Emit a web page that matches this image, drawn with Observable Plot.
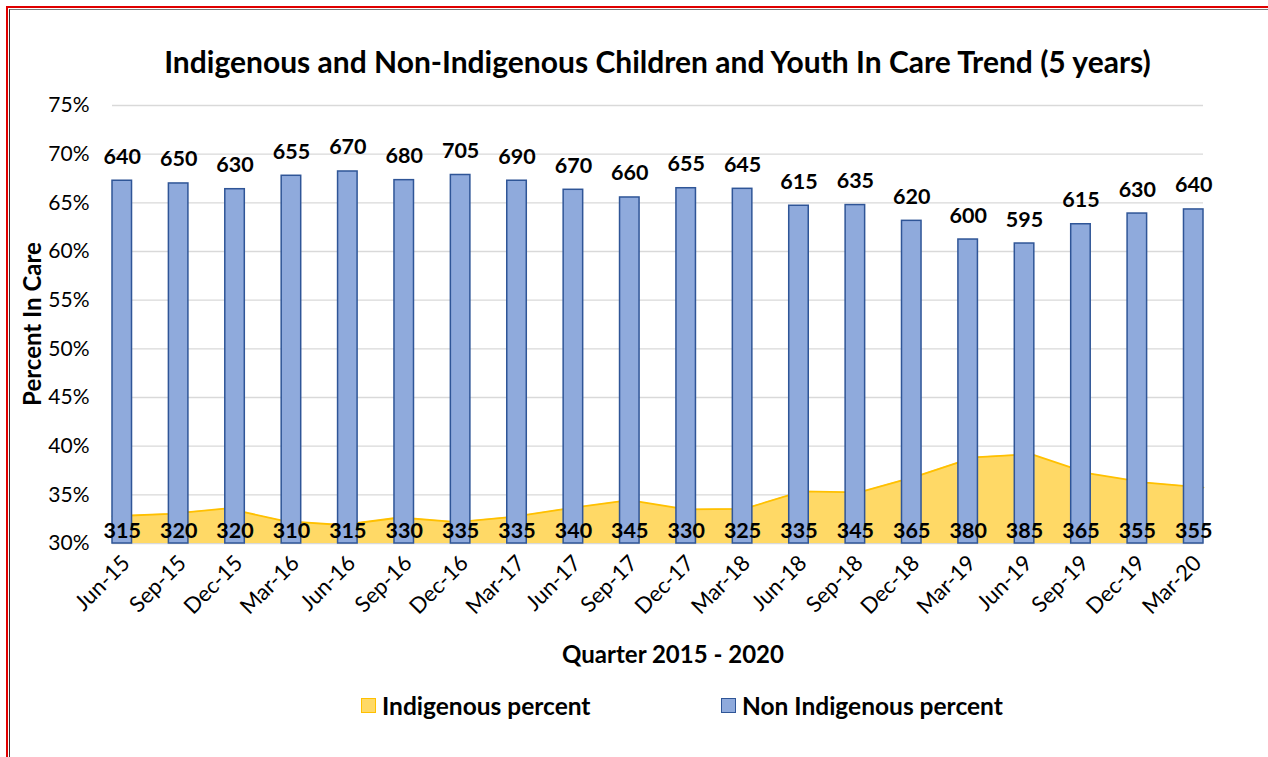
<!DOCTYPE html>
<html>
<head>
<meta charset="utf-8">
<script src="https://cdn.jsdelivr.net/npm/d3@7"></script>
<script src="https://cdn.jsdelivr.net/npm/@observablehq/plot@0.6"></script>
<style>
  html, body { margin: 0; padding: 0; background: #fff; }
  #wrap { position: relative; width: 1268px; height: 757px; overflow: hidden; font-family: Lato, "Noto Sans", sans-serif; color: #000; }
  #border-red { position: absolute; left: 6px; top: 6px; width: 1400px; height: 900px; border-left: 2px solid #e00000; border-top: 2px solid #e00000; }
  #border-dark { position: absolute; left: 9px; top: 9px; width: 1400px; height: 900px; border-left: 1px solid #333; border-top: 1px solid #777; }
  #title { position: absolute; left: 0; width: 1315px; top: 43px; text-align: center; font-weight: 700; font-size: 30px; line-height: 36px; white-space: nowrap; }
  #ytitle { position: absolute; left: -118px; top: 308px; width: 300px; height: 32px; line-height: 32px; text-align: center; font-weight: 700; font-size: 24px; transform: rotate(-90deg); transform-origin: 150px 16px; white-space: nowrap; }
  #chart { position: absolute; left: 0; top: 90px; }
  #legend { position: absolute; top: 689px; left: 0; width: 1268px; height: 32px; font-weight: 700; font-size: 24.5px; }
  .item { position: absolute; display: flex; align-items: center; top: 0; height: 32px; white-space: nowrap; }
  .sw { width: 13px; height: 13px; margin-right: 6px; border: 1.5px solid; flex: none; }
</style>
</head>
<body>
<div id="wrap">
  <div id="border-red"></div>
  <div id="border-dark"></div>
  <div id="title">Indigenous and Non-Indigenous Children and Youth In Care Trend (5 years)</div>
  <div id="chart"></div>
  <div id="ytitle">Percent In Care</div>
  <div id="legend">
    <div class="item" style="left:361px"><span class="sw" style="background:#FFD966;border-color:#FFC000"></span>Indigenous percent</div>
    <div class="item" style="left:721px"><span class="sw" style="background:#8FAADC;border-color:#2F5597"></span>Non Indigenous percent</div>
  </div>
</div>
<script>
const quarters = ["Jun-15","Sep-15","Dec-15","Mar-16","Jun-16","Sep-16","Dec-16","Mar-17","Jun-17","Sep-17","Dec-17","Mar-18","Jun-18","Sep-18","Dec-18","Mar-19","Jun-19","Sep-19","Dec-19","Mar-20"];
const nonIndigenousPct = [67.27, 66.99, 66.4, 67.78, 68.22, 67.33, 67.86, 67.27, 66.34, 65.55, 66.5, 66.44, 64.7, 64.77, 63.15, 61.23, 60.82, 62.8, 63.9, 64.32];
const indigenousPct = [32.8, 33.05, 33.6, 32.3, 31.9, 32.67, 32.2, 32.75, 33.66, 34.45, 33.5, 33.56, 35.35, 35.25, 36.9, 38.85, 39.18, 37.2, 36.25, 35.75];
const nonIndigenousCount = [640, 650, 630, 655, 670, 680, 705, 690, 670, 660, 655, 645, 615, 635, 620, 600, 595, 615, 630, 640];
const indigenousCount = [315, 320, 320, 310, 315, 330, 335, 335, 340, 345, 330, 325, 335, 345, 365, 380, 385, 365, 355, 355];
const yTicks = [30, 35, 40, 45, 50, 55, 60, 65, 70, 75];

const n = quarters.length;
const barW = 0.34; // bar width in category units
const barCenter = i => i * ((n - 1) - barW) / (n - 1) + barW / 2;

const rows = quarters.map((q, i) => ({
  q, i,
  c: barCenter(i),
  non: nonIndigenousPct[i],
  ind: indigenousPct[i],
  nonN: nonIndigenousCount[i],
  indN: indigenousCount[i]
}));
const labelAt = new Map(rows.map(r => [r.c, r.q]));

const chart = Plot.plot({
  width: 1268,
  height: 590,
  marginLeft: 112,
  marginRight: 65,
  marginTop: 15,
  marginBottom: 137,
  style: { fontFamily: "Lato, 'Noto Sans', sans-serif", fontSize: "21px", color: "#000", background: "transparent" },
  x: { type: "linear", domain: [0, n - 1] },
  y: { domain: [30, 75] },
  marks: [
    Plot.ruleY(yTicks, { stroke: "#d9d9d9", strokeWidth: 1.4 }),
    Plot.areaY(rows, { x: "i", y1: 30, y2: "ind", fill: "#FFD966" }),
    Plot.lineY(rows, { x: "i", y: "ind", stroke: "#FFC000", strokeWidth: 1.8 }),
    Plot.rect(rows, { x1: d => d.c - barW / 2, x2: d => d.c + barW / 2, y1: 30, y2: "non", fill: "#8FAADC", stroke: "#2F5597", strokeWidth: 1.5 }),
    Plot.text(rows, { x: "c", y: "non", text: d => String(d.nonN), lineAnchor: "bottom", dy: -17, fontWeight: 700, fontSize: 21.5, fill: "#000" }),
    Plot.text(rows, { x: "c", y: () => 30, text: d => String(d.indN), lineAnchor: "bottom", dy: -6, fontWeight: 700, fontSize: 21.5, fill: "#000" }),
    Plot.axisY(yTicks, { tickFormat: d => d + "%", tickSize: 0, tickPadding: 23, label: null, fontSize: 21 }),
    Plot.axisX(rows.map(r => r.c), { tickFormat: d => labelAt.get(d), tickRotate: -45, tickSize: 0, tickPadding: 16, dx: 4, label: null, fontSize: 22 }),
    Plot.text(["Quarter 2015 - 2020"], { frameAnchor: "bottom", dy: 112, dx: 15, lineAnchor: "middle", fontWeight: 700, fontSize: 24, fill: "#000" })
  ]
});
document.getElementById("chart").appendChild(chart);
</script>
</body>
</html>
